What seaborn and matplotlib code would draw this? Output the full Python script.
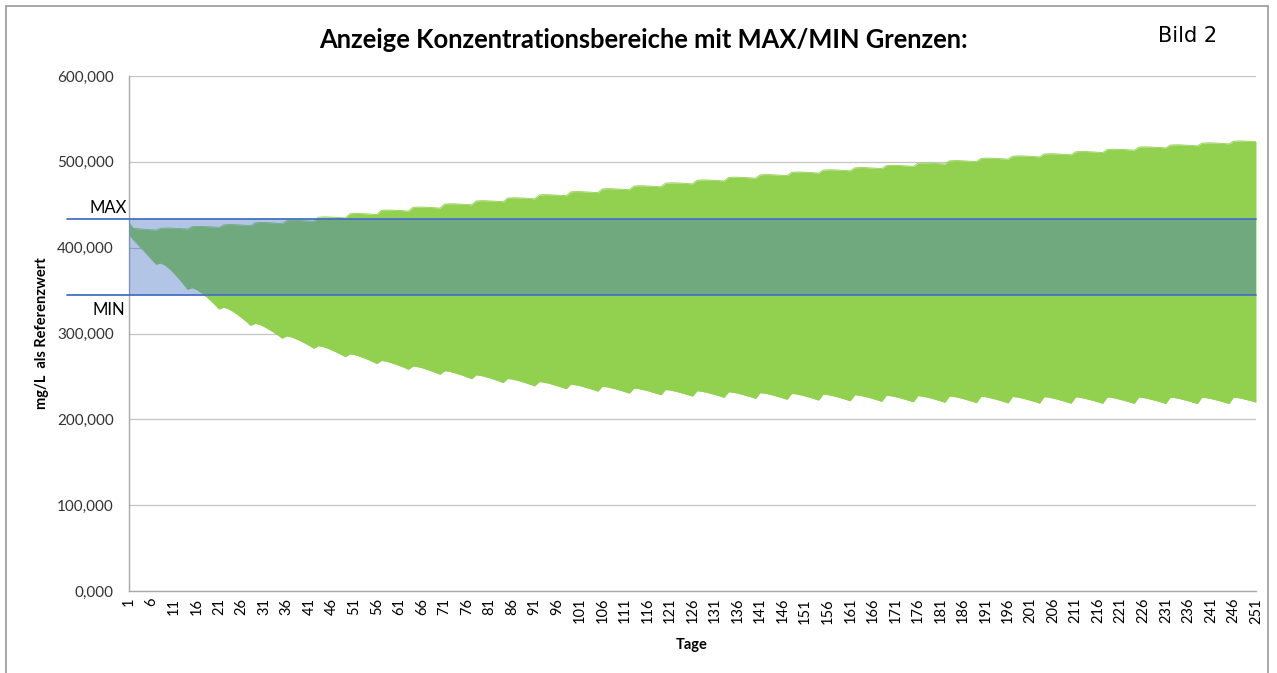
import matplotlib
matplotlib.use("Agg")
import matplotlib.pyplot as plt
import seaborn as sns
import pandas as pd
from matplotlib.patches import Rectangle

# ---------------- data ----------------
days = list(range(1, 252))

upper = [428.4, 422.6, 422.0, 421.6, 421.2, 420.8, 420.5,
         422.6, 422.9, 422.9, 422.7, 422.4, 422.1, 421.7,
         424.5, 424.8, 424.8, 424.6, 424.3, 424.0, 423.6,
         426.6, 426.9, 426.9, 426.7, 426.4, 426.1, 425.7,
         429.0, 429.3, 429.3, 429.1, 428.8, 428.5, 428.1,
         431.5, 431.8, 431.8, 431.6, 431.3, 431.0, 430.6,
         435.5, 435.8, 435.8, 435.6, 435.3, 435.0, 434.6,
         439.5, 439.8, 439.8, 439.6, 439.3, 439.0, 438.6,
         443.5, 443.8, 443.8, 443.6, 443.3, 443.0, 442.6,
         447.0, 447.3, 447.3, 447.1, 446.8, 446.5, 446.1,
         450.8, 451.1, 451.1, 450.9, 450.6, 450.3, 449.9,
         454.4, 454.7, 454.7, 454.5, 454.2, 453.9, 453.5,
         457.8, 458.1, 458.1, 457.9, 457.6, 457.3, 456.9,
         461.4, 461.7, 461.7, 461.5, 461.2, 460.9, 460.5,
         465.0, 465.3, 465.3, 465.1, 464.8, 464.5, 464.1,
         468.4, 468.7, 468.7, 468.5, 468.2, 467.9, 467.5,
         471.8, 472.1, 472.1, 471.9, 471.6, 471.3, 470.9,
         475.2, 475.5, 475.5, 475.3, 475.0, 474.7, 474.3,
         478.6, 478.9, 478.9, 478.7, 478.4, 478.1, 477.7,
         481.8, 482.1, 482.1, 481.9, 481.6, 481.3, 480.9,
         484.8, 485.1, 485.1, 484.9, 484.6, 484.3, 483.9,
         487.8, 488.1, 488.1, 487.9, 487.6, 487.3, 486.9,
         490.4, 490.7, 490.7, 490.5, 490.2, 489.9, 489.5,
         493.0, 493.3, 493.3, 493.1, 492.8, 492.5, 492.1,
         495.6, 495.9, 495.9, 495.7, 495.4, 495.1, 494.7,
         498.3, 498.6, 498.6, 498.4, 498.1, 497.8, 497.4,
         501.1, 501.4, 501.4, 501.2, 500.9, 500.6, 500.2,
         504.0, 504.3, 504.3, 504.1, 503.8, 503.5, 503.1,
         506.6, 506.9, 506.9, 506.7, 506.4, 506.1, 505.7,
         509.1, 509.4, 509.4, 509.2, 508.9, 508.6, 508.2,
         511.7, 512.0, 512.0, 511.8, 511.5, 511.2, 510.8,
         514.4, 514.7, 514.7, 514.5, 514.2, 513.9, 513.5,
         517.1, 517.4, 517.4, 517.2, 516.9, 516.6, 516.2,
         519.5, 519.8, 519.8, 519.6, 519.3, 519.0, 518.6,
         521.8, 522.1, 522.1, 521.9, 521.6, 521.3, 520.9,
         524.0, 524.3, 524.3, 524.1, 523.8, 523.5]

lower = [414.8, 409.2, 403.6, 398.0, 392.3, 386.6, 380.7,
         382.2, 379.7, 375.5, 370.2, 364.4, 358.3, 351.5,
         353.3, 351.3, 347.8, 343.6, 338.9, 334.0, 328.5,
         330.6, 328.9, 326.0, 322.4, 318.4, 314.1, 309.5,
         311.9, 310.5, 308.1, 305.1, 301.8, 298.3, 294.5,
         297.2, 296.1, 294.0, 291.6, 288.9, 286.0, 282.8,
         285.8, 284.8, 283.0, 280.8, 278.4, 275.8, 273.0,
         276.3, 275.4, 273.8, 271.9, 269.8, 267.5, 265.0,
         268.6, 267.8, 266.3, 264.6, 262.6, 260.6, 258.3,
         262.2, 261.4, 260.1, 258.4, 256.6, 254.6, 252.5,
         256.7, 256.0, 254.6, 253.0, 251.3, 249.4, 247.3,
         251.8, 251.1, 249.8, 248.3, 246.6, 244.8, 242.8,
         247.6, 246.9, 245.7, 244.2, 242.6, 240.8, 238.9,
         244.0, 243.3, 242.2, 240.7, 239.1, 237.5, 235.6,
         241.0, 240.3, 239.2, 237.8, 236.2, 234.6, 232.8,
         238.5, 237.9, 236.7, 235.4, 233.9, 232.3, 230.5,
         236.4, 235.8, 234.7, 233.4, 231.9, 230.3, 228.6,
         234.7, 234.1, 233.0, 231.7, 230.2, 228.7, 227.0,
         233.3, 232.7, 231.6, 230.3, 228.8, 227.3, 225.6,
         232.1, 231.5, 230.4, 229.1, 227.6, 226.1, 224.4,
         231.1, 230.5, 229.4, 228.1, 226.6, 225.0, 223.3,
         230.2, 229.6, 228.5, 227.2, 225.7, 224.1, 222.4,
         229.4, 228.8, 227.7, 226.4, 224.9, 223.3, 221.6,
         228.7, 228.1, 227.0, 225.7, 224.2, 222.6, 220.9,
         228.1, 227.5, 226.4, 225.1, 223.6, 222.0, 220.3,
         227.6, 227.0, 225.9, 224.6, 223.1, 221.5, 219.8,
         227.2, 226.6, 225.5, 224.2, 222.7, 221.1, 219.4,
         226.9, 226.3, 225.2, 223.9, 222.4, 220.8, 219.1,
         226.6, 226.0, 224.9, 223.6, 222.1, 220.6, 218.9,
         226.4, 225.8, 224.7, 223.4, 221.9, 220.4, 218.7,
         226.2, 225.6, 224.5, 223.2, 221.8, 220.3, 218.6,
         226.1, 225.5, 224.4, 223.1, 221.7, 220.2, 218.5,
         226.0, 225.4, 224.3, 223.0, 221.6, 220.1, 218.4,
         225.9, 225.3, 224.2, 222.9, 221.5, 220.0, 218.3,
         225.8, 225.2, 224.2, 222.9, 221.5, 220.0, 218.3,
         225.8, 225.2, 224.2, 222.9, 221.5, 220.0]

max_limit = 433.4
min_limit = 344.9
y_ticks = [0, 100, 200, 300, 400, 500, 600]
x_ticks = days[::5]

title = "Anzeige Konzentrationsbereiche mit MAX/MIN Grenzen:"
corner_label = "Bild 2"
x_label = "Tage"
y_label = "mg/L  als Referenzwert"

# ---------------- style ----------------
GREEN = "#92D050"
BLUE = "#4472C4"
GRID = "#C4C4C4"
SPINE = "#A8A8A8"

sns.set_theme(style="white")
plt.rcParams["font.family"] = ["Lato", "DejaVu Sans"]

W, H = 1277, 673
fig = plt.figure(figsize=(W / 100, H / 100), dpi=100)
fig.patch.set_facecolor("white")
ax = fig.add_axes([129 / W, 1 - 591 / H, 1127 / W, 515 / H])

df = pd.DataFrame({"Tag": days, "oben": upper, "unten": lower})

ax.set_axisbelow(True)
ax.yaxis.grid(True, color=GRID, lw=0.9, zorder=0)
ax.xaxis.grid(False)

ax.fill_between(df["Tag"], df["unten"], df["oben"], color=GREEN, lw=0, zorder=2)
sns.lineplot(data=df, x="Tag", y="oben", color=GREEN, lw=0.6, ax=ax, zorder=2)
sns.lineplot(data=df, x="Tag", y="unten", color=GREEN, lw=0.6, ax=ax, zorder=2)

ax.axhspan(min_limit, max_limit, color=BLUE, alpha=0.41, lw=0, zorder=3)
for v in (max_limit, min_limit):
    ax.axhline(v, xmin=-0.055, xmax=1.0, color=BLUE, lw=1.3, clip_on=False, zorder=4)

ax.set_xlim(1, 251)
ax.set_ylim(0, 600)
ax.set_xticks(x_ticks)
ax.set_xticklabels([str(d) for d in x_ticks], rotation=90, fontsize=10.5)
ax.set_yticks(y_ticks)
ax.set_yticklabels([f"{v:.3f}".replace(".", ",") for v in y_ticks], fontsize=11)
ax.tick_params(axis="x", length=0, pad=5, colors="#000000")
ax.tick_params(axis="y", length=0, pad=11, colors="#000000")
for lbl in ax.get_yticklabels():
    lbl.set_color("#333333")
ax.set_xlabel("")
ax.set_ylabel("")

for s in ("top", "right"):
    ax.spines[s].set_visible(False)
for s in ("left", "bottom"):
    ax.spines[s].set_color(SPINE)
    ax.spines[s].set_linewidth(1.0)

# texts
fig.text(643 / W, 1 - 40 / H, title, ha="center", va="center",
         fontsize=18.4, fontweight="bold", color="#000000")
fig.text(1158 / W, 1 - 42 / H, corner_label, ha="left", va="baseline",
         fontsize=15, family=["DejaVu Sans"], color="#000000")
fig.text(127 / W, 1 - 213 / H, "MAX", ha="right", va="baseline", fontsize=12, color="#000000")
fig.text(125 / W, 1 - 315 / H, "MIN", ha="right", va="baseline", fontsize=12, color="#000000")
fig.text(692 / W, 1 - 645 / H, x_label, ha="center", va="center",
         fontsize=10.5, fontweight="bold", color="#000000")
fig.text(42 / W, 1 - 333 / H, y_label, ha="center", va="center", rotation=90,
         fontsize=10.5, fontweight="bold", color="#000000")

# outer chart border
fig.add_artist(Rectangle((6 / W, -0.05), (1268 - 6) / W, 1 - 6 / H + 0.05,
                         transform=fig.transFigure, fill=False,
                         edgecolor="#A0A0A0", lw=1.3))

fig.savefig("out.png", dpi=100)
